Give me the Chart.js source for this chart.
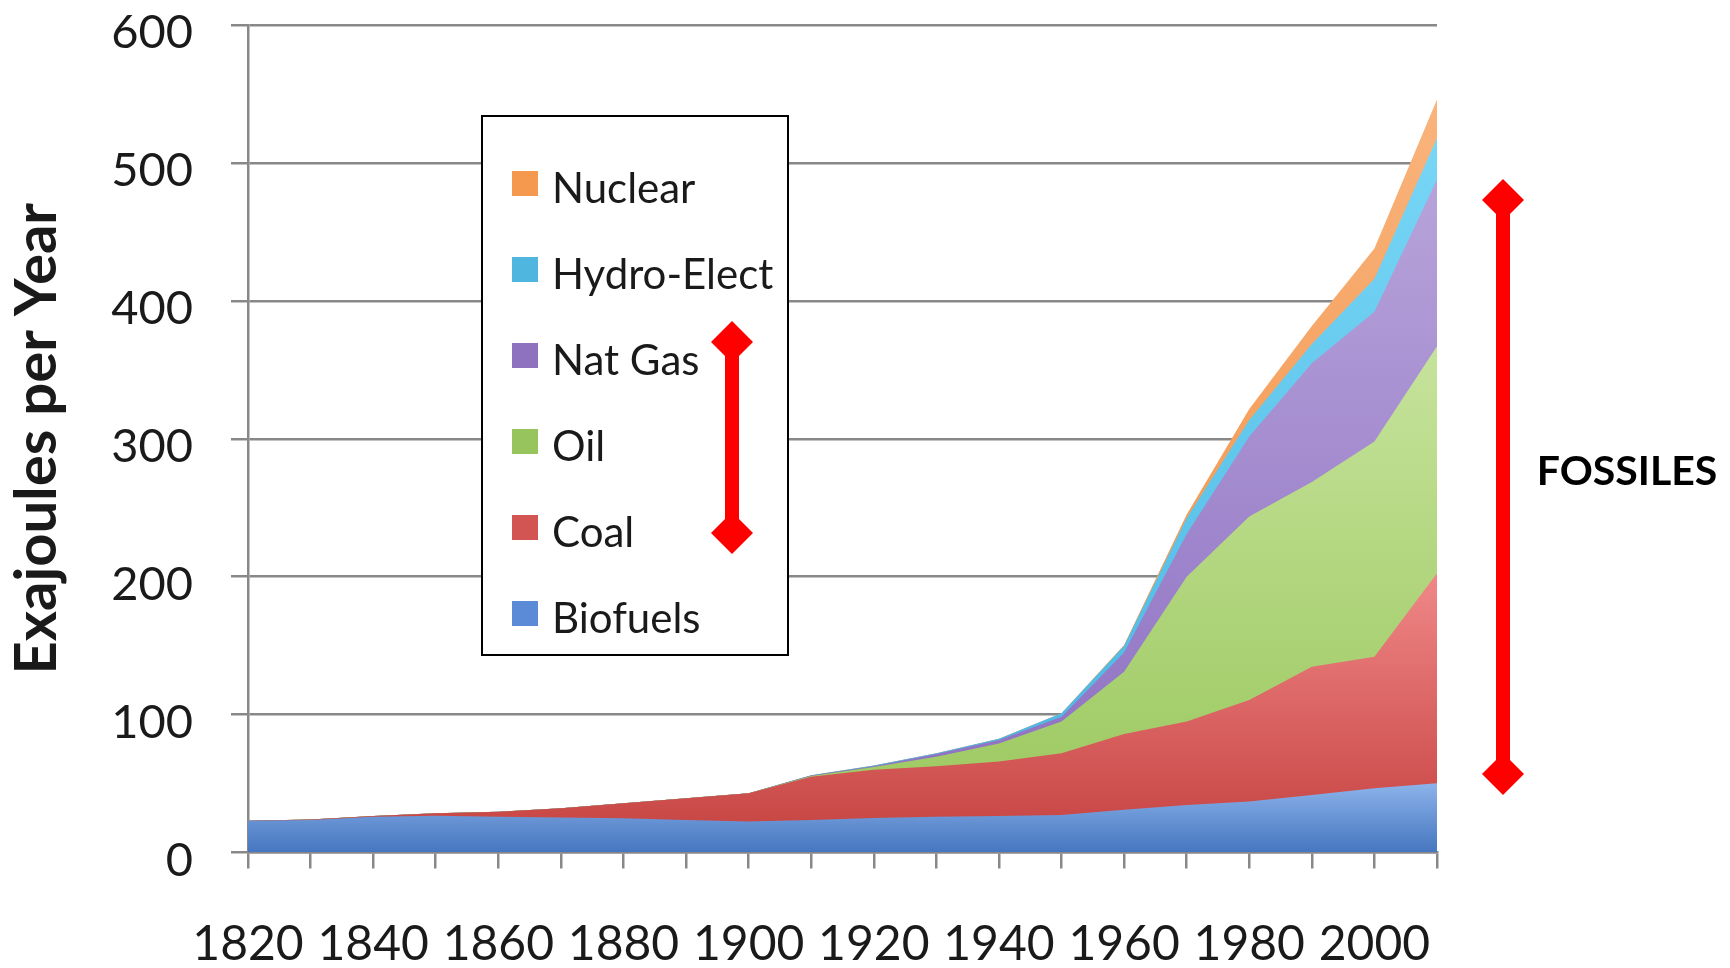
<!DOCTYPE html>
<html>
<head>
<meta charset="utf-8">
<script src="https://cdn.jsdelivr.net/npm/chart.js@4.4.1/dist/chart.umd.min.js"></script>
<style>
  body { margin: 0; background: #fff; }
  canvas { display: block; }
</style>
</head>
<body>
<canvas id="energieChart" width="1730" height="968"></canvas>
<script>
// Données (EJ par an)
const annees = ["1820","1830","1840","1850","1860","1870","1880","1890","1900","1910",
                "1920","1930","1940","1950","1960","1970","1980","1990","2000","2010"];
const biofuels = [23, 23.6, 26, 26.7, 26, 25.3, 24.8, 23.6, 22.4, 23.6, 25, 26, 26.5, 27.2, 31, 34.4, 36.9, 41.7, 46.5, 50.2];
const coal     = [0, 0.4, 0.5, 1.7, 3.6, 6.7, 10.9, 15.7, 20.6, 31.4, 35, 36.5, 39.5, 44.8, 55, 60.6, 73.7, 93, 95.5, 152.3];
const oil      = [0, 0, 0, 0, 0, 0, 0, 0, 0, 0.5, 2, 7, 13, 23, 45, 105, 133, 134, 156, 164.5];
const natGas   = [0, 0, 0, 0, 0, 0, 0, 0, 0, 0.3, 0.5, 1.9, 2.6, 3.5, 14, 31, 58, 86, 94, 121];
const hydro    = [0, 0, 0, 0, 0, 0, 0, 0, 0, 0.2, 0.5, 0.6, 0.9, 2.5, 5, 11.5, 12, 14, 24, 30];
const nuclear  = [0, 0, 0, 0, 0, 0, 0, 0, 0, 0, 0, 0, 0, 0, 0.5, 2.5, 8, 13, 22, 28];
const yTicks = [0, 100, 200, 300, 400, 500, 600];

const grisGrille = "#888888";
const police = "Lato";

// Dégradé vertical (style Office) pour chaque série
function degrade(haut, bas) {
  return function(context) {
    const chart = context.chart;
    const {ctx, chartArea, scales} = chart;
    if (!chartArea) return bas;
    const i = context.datasetIndex;
    let max = 0;
    for (let k = 0; k < annees.length; k++) {
      let s = 0;
      for (let d = 0; d <= i; d++) s += chart.data.datasets[d].data[k];
      max = Math.max(max, s);
    }
    const g = ctx.createLinearGradient(0, scales.y.getPixelForValue(max), 0, chartArea.bottom);
    g.addColorStop(0, haut);
    g.addColorStop(1, bas);
    return g;
  };
}

function serie(label, data, haut, bas, legende) {
  return {
    label: label,
    data: data,
    fill: "origin",
    backgroundColor: degrade(haut, bas),
    borderWidth: 0,
    pointRadius: 0,
    tension: 0,
    legendColor: legende
  };
}

// Légende encadrée, flèches rouges et texte FOSSILES
const decor = {
  id: "decor",
  afterDraw(chart) {
    const ctx = chart.ctx;
    const ca = chart.chartArea;
    const bx = ca.left + 234, by = ca.top + 91, bw = 306, bh = 539;

    ctx.save();
    ctx.fillStyle = "#fff";
    ctx.fillRect(bx, by, bw, bh);
    ctx.strokeStyle = "#000";
    ctx.lineWidth = 2;
    ctx.strokeRect(bx, by, bw, bh);

    const items = chart.data.datasets.slice().reverse();
    ctx.font = "42px " + police;
    ctx.textBaseline = "alphabetic";
    ctx.textAlign = "left";
    items.forEach((ds, i) => {
      const base = by + 87 + i * 86;
      ctx.fillStyle = ds.legendColor;
      ctx.fillRect(bx + 30, base - 32, 26, 25);
      ctx.fillStyle = "#1a1a1a";
      ctx.fillText(ds.label, bx + 70, base);
    });

    fleche(ctx, bx + 250, by + 226, by + 417);
    fleche(ctx, ca.right + 66, 200, 774);

    ctx.fillStyle = "#000";
    ctx.font = "bold 41px " + police;
    ctx.textAlign = "center";
    ctx.fillText("FOSSILES", 1627, 485);
    ctx.restore();
  }
};

function fleche(ctx, x, y1, y2) {
  ctx.fillStyle = "#ff0000";
  ctx.fillRect(x - 7, y1, 14, y2 - y1);
  [y1, y2].forEach(y => {
    ctx.beginPath();
    ctx.moveTo(x, y - 21);
    ctx.lineTo(x + 21, y);
    ctx.lineTo(x, y + 21);
    ctx.lineTo(x - 21, y);
    ctx.closePath();
    ctx.fill();
  });
}

new Chart(document.getElementById("energieChart"), {
  type: "line",
  data: {
    labels: annees,
    datasets: [
      serie("Biofuels", biofuels, "#8cb3ea", "#4676c0", "#5b8bd6"),
      serie("Coal", coal, "#f08888", "#c4403e", "#d25453"),
      serie("Oil", oil, "#c6e39c", "#98c65a", "#97c45c"),
      serie("Nat Gas", natGas, "#b7a3da", "#8a6cc0", "#8e72c0"),
      serie("Hydro-Elect", hydro, "#78d6f6", "#46b4e0", "#4fb6e0"),
      serie("Nuclear", nuclear, "#f9b47c", "#f08a3c", "#f5994e")
    ]
  },
  options: {
    responsive: false,
    animation: false,
    layout: { padding: { top: 25, right: 293, bottom: 0, left: 0 } },
    plugins: {
      legend: { display: false },
      tooltip: { enabled: false }
    },
    scales: {
      x: {
        type: "category",
        offset: false,
        grid: {
          drawOnChartArea: false,
          drawTicks: true,
          tickLength: 16,
          color: grisGrille,
          lineWidth: 2.5
        },
        border: { display: true, color: grisGrille, width: 2.5 },
        ticks: {
          autoSkip: false,
          maxRotation: 0,
          padding: 52,
          color: "#1a1a1a",
          font: { family: police, size: 48, lineHeight: 1 },
          callback: function(val, index) {
            return index % 2 === 0 ? this.getLabelForValue(val) : "";
          }
        },
        afterFit(scale) {
          scale.height = 968 - 852.5;
          scale.paddingTop = 0;
          scale.paddingBottom = 0;
        }
      },
      y: {
        stacked: true,
        min: 0,
        max: 600,
        afterBuildTicks(scale) { scale.ticks = yTicks.map(v => ({ value: v })); },
        grid: {
          color: grisGrille,
          lineWidth: 2.5,
          tickLength: 17
        },
        border: { display: true, color: grisGrille, width: 2.5 },
        ticks: {
          padding: 38,
          labelOffset: 8,
          color: "#1a1a1a",
          font: { family: police, size: 47, lineHeight: 1 }
        },
        title: {
          display: true,
          text: "Exajoules per Year",
          color: "#1a1a1a",
          font: { family: police, size: 58, weight: "bold", lineHeight: 1.2 },
          padding: { top: 2, bottom: 0 }
        },
        afterFit(scale) {
          scale.width = 248;
          scale.paddingTop = 0;
          scale.paddingBottom = 0;
        }
      }
    }
  },
  plugins: [decor]
});
</script>
</body>
</html>
